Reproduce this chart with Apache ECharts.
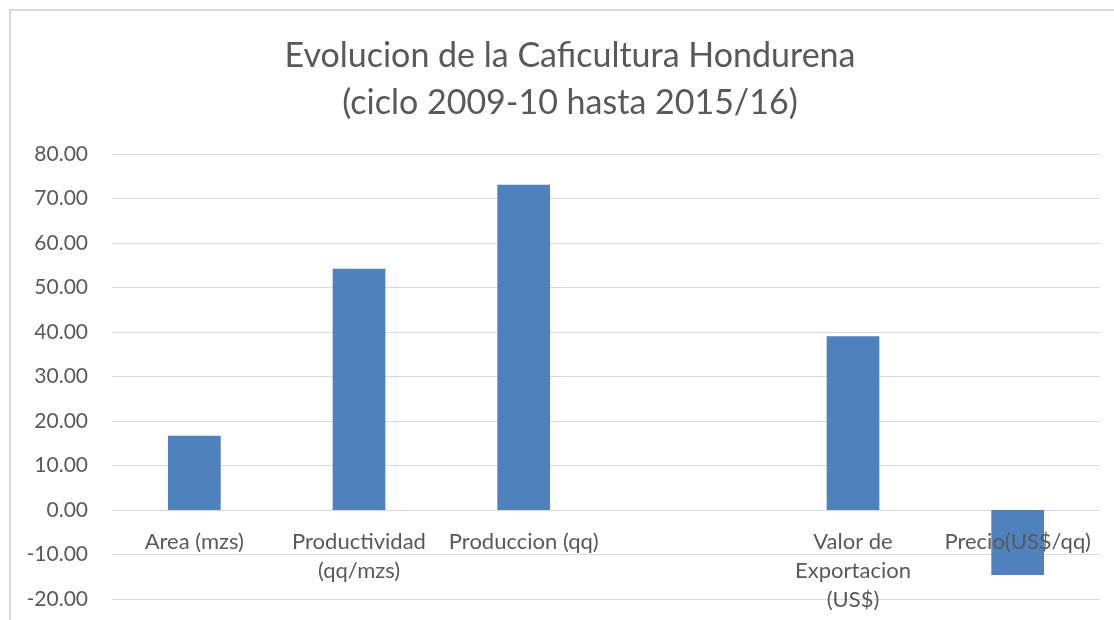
<!DOCTYPE html>
<html>
<head>
<meta charset="utf-8">
<script src="https://cdn.jsdelivr.net/npm/echarts@6/dist/echarts.min.js"></script>
<style>
  html, body { margin: 0; padding: 0; background: #fff; }
  #main { width: 1114px; height: 620px; }
</style>
</head>
<body>
<div id="main"></div>
<script>
// categorias (la cuarta esta vacia en el original)
var categories = ['Area (mzs)', 'Productividad\n(qq/mzs)', 'Produccion (qq)', '', 'Valor de\nExportacion\n(US$)', 'Precio(US$/qq)'];
var values = [16.7, 54.2, 73.1, null, 39.05, -14.6];
var yMin = -20, yMax = 80, yStep = 10;

var myChart = echarts.init(document.getElementById('main'));
var txt = '#595959';
var font = 'Lato, "Open Sans", sans-serif';
var gridTop = 154, gridBottom = 21;
var plotH = 620 - gridTop - gridBottom;
// subir el eje de categorias hasta la linea del cero
var zeroOffset = -plotH * (0 - yMin) / (yMax - yMin);

var option = {
  backgroundColor: '#fff',
  animation: false,
  title: {
    text: 'Evolucion de la Caficultura Hondurena\n(ciclo 2009-10 hasta 2015/16)',
    left: 565,
    top: 28,
    textAlign: 'center',
    textStyle: {
      color: txt,
      fontFamily: font,
      fontSize: 34,
      fontWeight: 'normal',
      lineHeight: 47
    }
  },
  graphic: [{
    type: 'polyline',
    shape: { points: [[10, 620], [10, 10], [1114, 10]] },
    style: { stroke: '#d9d9d9', lineWidth: 2, fill: null },
    silent: true
  }],
  grid: {
    left: 112,
    right: 14,
    top: gridTop,
    bottom: gridBottom,
    containLabel: false,
    outerBoundsMode: 'none'
  },
  xAxis: {
    type: 'category',
    data: categories,
    position: 'bottom',
    offset: zeroOffset,
    z: 3,
    axisLine: { show: false, onZero: false },
    axisTick: { show: false },
    axisLabel: {
      interval: 0,
      margin: 17,
      color: txt,
      fontFamily: font,
      fontSize: 22,
      lineHeight: 29
    },
    splitLine: { show: false }
  },
  yAxis: {
    type: 'value',
    min: yMin,
    max: yMax,
    interval: yStep,
    axisLine: { show: false },
    axisTick: { show: false },
    axisLabel: {
      margin: 24,
      color: txt,
      fontFamily: font,
      fontSize: 21,
      formatter: function (v) { return v.toFixed(2); }
    },
    splitLine: { lineStyle: { color: '#d9d9d9', width: 1 } }
  },
  series: [{
    type: 'bar',
    data: values,
    barWidth: '32%',
    itemStyle: { color: '#4f81bd' }
  }]
};
myChart.setOption(option);
</script>
</body>
</html>
